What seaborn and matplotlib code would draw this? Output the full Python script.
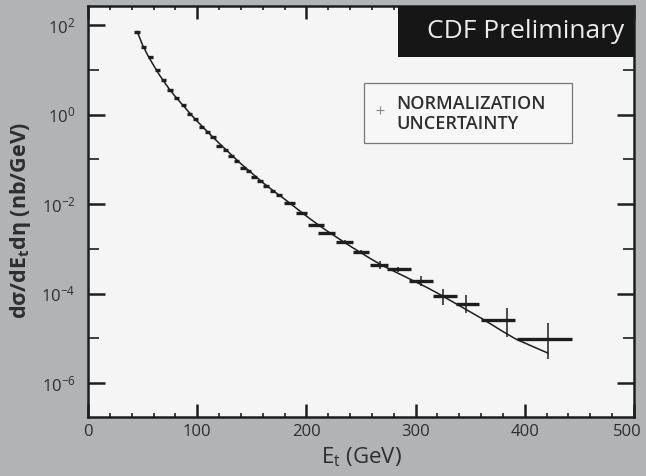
import numpy as np
import pandas as pd
import matplotlib
matplotlib.use("Agg")
import matplotlib.pyplot as plt
import matplotlib.ticker as mticker
import matplotlib.transforms as mtransforms
from matplotlib.patches import Rectangle
import seaborn as sns

# ---------------- data ----------------
et_points = [45, 51, 57, 63.5, 69, 75, 81, 87.5, 93, 98.5, 104, 109.5, 114.5, 120,
             126, 131, 136, 142, 147, 152, 157.5, 163, 169, 175, 184, 196, 209, 219,
             235, 250, 267, 284, 305, 325, 346, 384, 421]
xsec_points = [69, 32, 19, 9.8, 5.8, 3.5, 2.3, 1.6, 1.05, 0.78, 0.52, 0.40, 0.32, 0.20,
               0.16, 0.12, 0.091, 0.065, 0.054, 0.041, 0.032, 0.025, 0.020, 0.0155,
               0.0107, 0.0062, 0.0034, 0.0023, 0.00145, 0.00083, 0.00044, 0.00035,
               1.9e-4, 8.7e-5, 5.9e-5, 2.5e-5, 9.6e-6]
bin_low = [42.5, 48.5, 54.5, 61, 66.5, 72.5, 78.5, 85, 90.5, 96, 101.5, 107, 112, 117.5,
           123.5, 128.5, 133.5, 139.5, 144.5, 149.5, 155, 160.5, 166.5, 172.5,
           179.5, 190.5, 201.7, 210.9, 227.1, 243, 258.2, 273.5, 294.2, 316.2, 337,
           360, 392.5]
bin_high = [47.5, 53.5, 59.5, 66, 71.5, 77.5, 83.5, 90, 95.5, 101, 106.5, 112, 117, 122.5,
            128.5, 133.5, 138.5, 144.5, 149.5, 154.5, 160, 165.5, 171.5, 177.5,
            189.6, 200.9, 216.4, 226.2, 242.4, 257.6, 275, 295.8, 315.6, 338.2, 358.3,
            391, 443]
xsec_low = [69, 32, 19, 9.8, 5.8, 3.5, 2.3, 1.6, 1.05, 0.78, 0.52, 0.40, 0.32, 0.20,
            0.16, 0.12, 0.091, 0.065, 0.054, 0.041, 0.032, 0.025, 0.020, 0.0155,
            0.0107, 0.0062, 0.0034, 0.0023, 0.00132, 0.00075, 0.00036, 0.00031,
            1.5e-4, 5.6e-5, 3.7e-5, 1.07e-5, 3.4e-6]
xsec_high = [69, 32, 19, 9.8, 5.8, 3.5, 2.3, 1.6, 1.05, 0.78, 0.52, 0.40, 0.32, 0.20,
             0.16, 0.12, 0.091, 0.065, 0.054, 0.041, 0.032, 0.025, 0.020, 0.0155,
             0.0107, 0.0062, 0.0034, 0.0023, 0.00159, 0.00092, 0.00053, 0.00039,
             2.45e-4, 1.26e-4, 9.1e-5, 4.7e-5, 2.2e-5]

theory_et = [45, 50, 55, 60, 65, 70, 75, 80, 85, 90, 95, 100, 110, 120, 130, 140, 150,
             160, 170, 180, 190, 200, 210, 220, 230, 240, 250, 260, 270, 280, 290, 300,
             310, 320, 330, 340, 350, 360, 370, 380, 392, 405, 421]
theory_xsec = [72, 35.5, 20.4, 12.6, 7.94, 5.25, 3.55, 2.51, 1.82, 1.32, 0.955, 0.708,
               0.398, 0.229, 0.135, 0.0794, 0.0490, 0.0302, 0.0195, 0.0129, 0.00832,
               0.00537, 0.00355, 0.00240, 0.00166, 0.00115, 8.13e-4, 5.75e-4, 4.17e-4,
               3.16e-4, 2.40e-4, 1.82e-4, 1.38e-4, 1.02e-4, 7.41e-5, 5.37e-5, 3.89e-5,
               2.82e-5, 2.00e-5, 1.41e-5, 9.55e-6, 6.92e-6, 4.68e-6]

x_ticks = [0, 100, 200, 300, 400, 500]
y_major = [1e-6, 1e-4, 1e-2, 1e0, 1e2]
y_major_labels = [r"$10^{-6}$", r"$10^{-4}$", r"$10^{-2}$", r"$10^{0}$", r"$10^{2}$"]
y_minor = [1e-5, 1e-3, 1e-1, 1e1]

title_text = "CDF Preliminary"
legend_text = "NORMALIZATION\nUNCERTAINTY"
x_label = r"E$_{\mathregular{t}}$ (GeV)"
y_label = r"d$\mathbf{\sigma}$/dE$_{\mathbf{t}}$d$\mathbf{\eta}$ (nb/GeV)"

# ---------------- style ----------------
sns.set_theme(style="ticks")
FONT = "Open Sans"
plt.rcParams["font.family"] = [FONT, "DejaVu Sans"]
plt.rcParams["mathtext.fontset"] = "custom"
plt.rcParams["mathtext.rm"] = FONT
plt.rcParams["mathtext.it"] = FONT + ":italic"
plt.rcParams["mathtext.bf"] = FONT + ":bold"
plt.rcParams["mathtext.sf"] = FONT

INK = "#1e1e1e"
TXT = "#2e2e2e"

fig = plt.figure(figsize=(6.46, 4.76), dpi=100)
fig.patch.set_facecolor("#b2b3b5")
W, H = 646, 476
ax_l, ax_r, ax_t, ax_b = 88, 634, 6, 417
ax = fig.add_axes([ax_l / W, (H - ax_b) / H, (ax_r - ax_l) / W, (ax_b - ax_t) / H])
ax.set_facecolor("#f4f5f4")

ax.set_yscale("log")
ax.set_xlim(0, 500)
ax.set_ylim(1.74e-7, 266)

# theory curve
sns.lineplot(x=theory_et, y=theory_xsec, ax=ax, color=INK, linewidth=1.1,
             estimator=None, sort=False, zorder=3)

# data: horizontal (bin) bars and vertical error bars
et = np.array(et_points)
ys = np.array(xsec_points)
xerr = np.vstack([et - np.array(bin_low), np.array(bin_high) - et])
yerr = np.vstack([ys - np.array(xsec_low), np.array(xsec_high) - ys])
ax.errorbar(et, ys, xerr=xerr, fmt="none", ecolor=INK, elinewidth=2.4, capsize=0, zorder=4)
ax.errorbar(et, ys, yerr=yerr, fmt="none", ecolor=INK, elinewidth=1.1, capsize=0, zorder=4)

# ticks
ax.xaxis.set_major_locator(mticker.FixedLocator(x_ticks))
ax.xaxis.set_minor_locator(mticker.MultipleLocator(20))
ax.yaxis.set_major_locator(mticker.FixedLocator(y_major))
ax.yaxis.set_major_formatter(mticker.FixedFormatter(y_major_labels))
ax.yaxis.set_minor_locator(mticker.FixedLocator(y_minor))
ax.yaxis.set_minor_formatter(mticker.NullFormatter())

ax.tick_params(axis="both", which="both", direction="in", top=True, right=True,
               color=INK, labelcolor=TXT, labelsize=12)
ax.tick_params(axis="x", which="major", length=9.5, width=1.8, pad=5)
ax.tick_params(axis="x", which="minor", length=3, width=1.2)
ax.tick_params(axis="y", which="major", length=12.5, width=1.8, pad=9)
ax.tick_params(axis="y", which="minor", length=8, width=1.2)
for s in ax.spines.values():
    s.set_color(INK)
    s.set_linewidth(1.8)
    s.set_visible(True)

fig.canvas.draw()
for lab in ax.get_xticklabels():
    lab.set_fontweight("medium")
    if lab.get_text() == "500":
        lab.set_transform(lab.get_transform() +
                          mtransforms.ScaledTranslation(-7 / 100, 0, fig.dpi_scale_trans))
for lab in ax.get_yticklabels():
    lab.set_fontweight("medium")

ax.set_xlabel(x_label, fontsize=16, color=TXT, labelpad=4)
fig.text(21 / W, (H - 220) / H, y_label, rotation=90, ha="center", va="center",
         fontsize=15.5, fontweight="bold", color=TXT)

# "CDF Preliminary" box
bx0 = (398 - ax_l) / (ax_r - ax_l)
by0 = (ax_b - 57) / (ax_b - ax_t)
ax.add_patch(Rectangle((bx0, by0), 1 - bx0, 1 - by0, transform=ax.transAxes,
                       facecolor="#161616", edgecolor="none", zorder=5, clip_on=False))
ax.text((526 - ax_l) / (ax_r - ax_l), (ax_b - 32) / (ax_b - ax_t), title_text,
        transform=ax.transAxes, ha="center", va="center", fontsize=19,
        color="#ececec", zorder=6)

# legend-like box
lx0 = (364 - ax_l) / (ax_r - ax_l)
lx1 = (572 - ax_l) / (ax_r - ax_l)
ly0 = (ax_b - 143) / (ax_b - ax_t)
ly1 = (ax_b - 83) / (ax_b - ax_t)
ax.add_patch(Rectangle((lx0, ly0), lx1 - lx0, ly1 - ly0, transform=ax.transAxes,
                       facecolor="#f6f7f6", edgecolor="#777777", linewidth=0.9, zorder=5))
ax.plot([(380 - ax_l) / (ax_r - ax_l)], [(ax_b - 110) / (ax_b - ax_t)], marker="+",
        markersize=6, color="#888888", markeredgewidth=0.8, transform=ax.transAxes, zorder=6)
ax.text((396 - ax_l) / (ax_r - ax_l), (ax_b - 114) / (ax_b - ax_t), legend_text,
        transform=ax.transAxes, ha="left", va="center", fontsize=13, fontweight="semibold",
        color=TXT, linespacing=1.2, zorder=6)

fig.savefig("out.png", dpi=100, facecolor=fig.get_facecolor())
